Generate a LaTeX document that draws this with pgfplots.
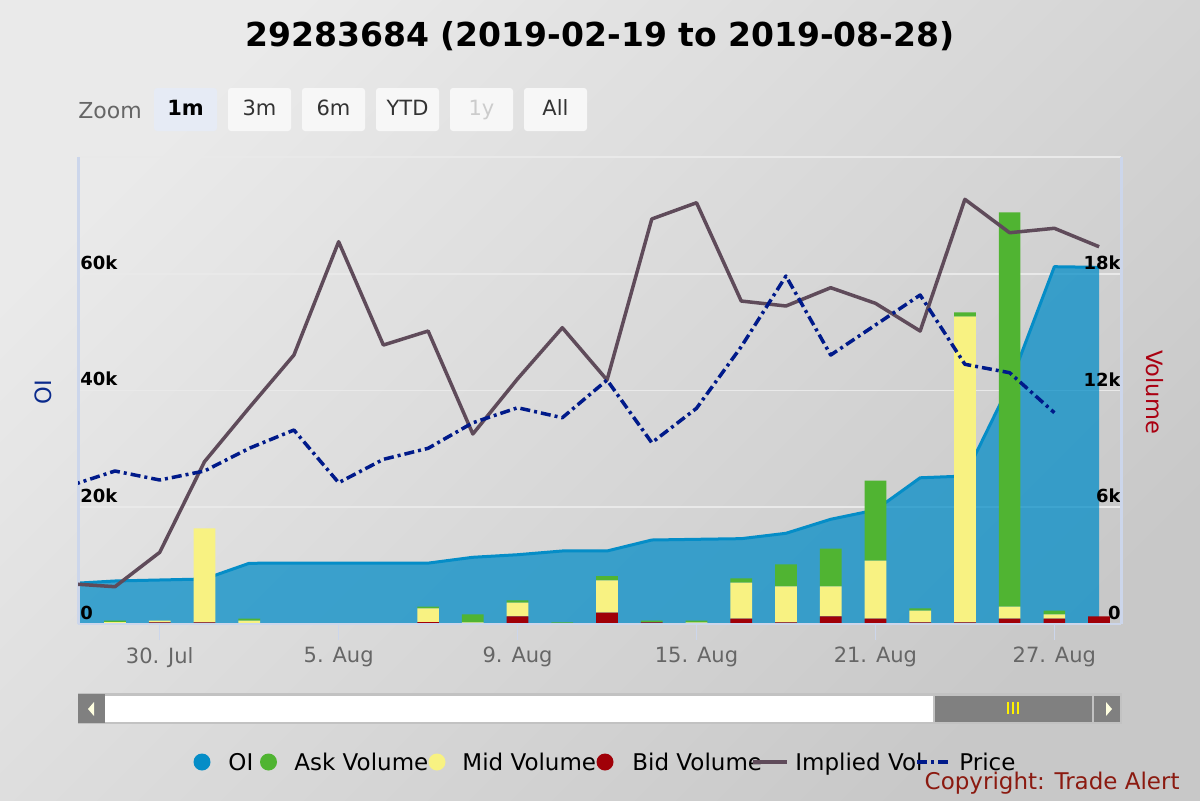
\documentclass[border=0pt]{standalone}
\usepackage{pgfplots}
\pgfplotsset{compat=1.18}
\usepackage{pgfplotstable}
\usepackage{fontspec}
\setmainfont{DejaVu Sans}
\definecolor{oicol}{HTML}{058DC7}
\definecolor{askcol}{HTML}{50B432}
\definecolor{midcol}{HTML}{F8F282}
\definecolor{bidcol}{HTML}{A00008}
\definecolor{ivcol}{HTML}{5F4B5A}
\definecolor{pricecol}{HTML}{001A8A}
\definecolor{gridcol}{HTML}{E9E9E9}
\definecolor{axcol}{HTML}{CCD6EB}
\definecolor{bgA}{HTML}{EAEAEA}
\definecolor{bgB}{HTML}{C8C8C8}
\definecolor{oititle}{HTML}{0A2A8C}
\definecolor{voltitle}{HTML}{AA0011}
\definecolor{copycol}{HTML}{8B1A10}
\definecolor{tickcol}{HTML}{666666}
\definecolor{btnbg}{HTML}{F7F7F7}
\definecolor{btnsel}{HTML}{E6EBF5}
\definecolor{btntext}{HTML}{333333}
\definecolor{btndis}{HTML}{CCCCCC}
\definecolor{scrgrey}{HTML}{808080}
\definecolor{scrbord}{HTML}{C2C2C2}
\definecolor{arrowcol}{HTML}{FFFFE0}

\pgfplotstableread{
idx oi
-1 6930
0 7370
1 7540
2 7710
3 10400
4 10450
5 10450
6 10450
7 10430
8 11430
9 11870
10 12510
11 12510
12 14390
13 14510
14 14620
15 15540
16 17940
17 19530
18 25050
19 25350
20 41000
21 61210
22 61100
}\oitab

\pgfplotstableread{
idx iv
-1 6900
0 6390
1 12280
2 27800
3 37050
4 46080
5 65490
6 47790
7 50190
8 32550
9 42000
10 50760
11 41800
12 69380
13 72170
14 55330
15 54480
16 57610
17 54940
18 50190
19 72750
20 67030
21 67790
22 64630
}\ivtab

\pgfplotstableread{
idx price
-1 23710
0 26210
1 24670
2 26210
3 30100
4 33230
5 24210
6 28210
7 30100
8 34480
9 37050
10 35340
11 41800
12 31060
13 36950
14 47500
15 59610
16 46080
17 51220
18 56360
19 44490
20 43050
21 36200
}\pricetab

\pgfplotstableread{
idx bid mid ask
0 0 100 80
1 90 90 0
2 90 4830 0
3 0 180 100
4 0 0 0
5 0 0 0
6 0 0 0
7 100 700 100
8 0 80 410
9 390 710 110
10 0 0 80
11 590 1650 220
12 80 0 100
13 0 80 100
14 280 1850 210
15 80 1850 1130
16 390 1540 1950
17 280 2980 4110
18 80 610 110
19 80 15720 210
20 280 620 20250
21 280 210 200
22 390 0 0
}\voltab

\pgfplotsset{
  baseframe/.style={at={(39pt,-312pt)}, anchor=south west, scale only axis,
    width=521.5pt, height=233.5pt, xmin=-0.827, xmax=22.49, clip=true,
    scaled y ticks=false, scaled x ticks=false},
}

\begin{document}
\begin{tikzpicture}
% ---------- background, title, range selector ----------
\begin{scope}[x=0.5pt,y=-0.5pt]
  \shade[top color=bgA, bottom color=bgB, shading angle=45] (0,0) rectangle (1200,800);
  \node[anchor=base, font=\fontsize{16.5}{18}\selectfont\bfseries] at (600,46)
    {29283684 (2019-02-19 to 2019-08-28)};
  \node[anchor=base west, inner sep=0pt, text=tickcol, font=\fontsize{11}{12}\selectfont] at (78,118) {Zoom};
  \fill[btnsel, rounded corners=1.5pt] (154,88) rectangle ++(63,43);
  \node[anchor=base, font=\fontsize{10.5}{12}\selectfont\bfseries] at (185.5,115) {1m};
  \foreach \xx/\lab in {228/3m,302/6m,376/YTD,524/All}{
    \fill[btnbg, rounded corners=1.5pt] (\xx,88) rectangle ++(63,43);
    \node[anchor=base, text=btntext, font=\fontsize{10.5}{12}\selectfont] at (\xx+31.5,115) {\lab};
  }
  \fill[btnbg, rounded corners=1.5pt] (450,88) rectangle ++(63,43);
  \node[anchor=base, text=btndis, font=\fontsize{10.5}{12}\selectfont] at (481.5,115) {1y};
\end{scope}

% ---------- OI area (left axis, grid) ----------
\begin{axis}[baseframe, ymin=0, ymax=80000,
  axis line style={draw=none},
  xtick=\empty,
  ytick={0,20000,40000,60000,80000},
  yticklabels={},
  ytick style={draw=none}, major tick length=0pt,
  ymajorgrids, major grid style={gridcol, line width=0.8pt},
]
\addplot[draw=none, fill=oicol, fill opacity=0.75] table[x=idx,y=oi]{\oitab} \closedcycle;
\addplot[oicol, line width=1.5pt, line join=round] table[x=idx,y=oi]{\oitab};
\end{axis}

% ---------- Volume bars (right axis) ----------
\begin{axis}[baseframe, ymin=0, ymax=24000,
  ybar stacked, bar width=10.85pt,
  axis line style={draw=none},
  xtick=\empty,
  ytick={0,6000,12000,18000},
  yticklabels={0,6k,12k,18k},
  yticklabel pos=right,
  ytick style={draw=none}, major tick length=0pt,
  yticklabel style={anchor=south east, inner sep=0pt, yshift=2pt,
    font=\fontsize{9}{10}\selectfont\bfseries},
]
\addplot[draw=none, fill=bidcol] table[x=idx,y=bid]{\voltab};
\addplot[draw=none, fill=midcol] table[x=idx,y=mid]{\voltab};
\addplot[draw=none, fill=askcol] table[x=idx,y=ask]{\voltab};
\end{axis}

% ---------- Implied Vol and Price, axis lines, date ticks ----------
\begin{axis}[baseframe, ymin=0, ymax=80000,
  axis x line*=bottom, axis y line*=box,
  x axis line style={axcol, line width=1pt},
  y axis line style={axcol, line width=1.5pt},
  ytick=\empty,
  xtick={1,5,9,13,17,21},
  xticklabels={30. Jul,5. Aug,9. Aug,15. Aug,21. Aug,27. Aug},
  tick align=outside, major tick length=8pt,
  xtick style={axcol, line width=0.6pt},
  xticklabel style={text=tickcol, font=\fontsize{10.5}{12}\selectfont},
]
\addplot[ivcol, line width=1.75pt, line join=round] table[x=idx,y=iv]{\ivtab};
\addplot[pricecol, line width=1.75pt, line join=round,
  dash pattern=on 5pt off 2pt on 1.5pt off 2pt] table[x=idx,y=price]{\pricetab};
\end{axis}

% ---------- left OI tick labels, on top ----------
\begin{axis}[baseframe, ymin=0, ymax=80000,
  axis line style={draw=none},
  xtick=\empty,
  ytick={0,20000,40000,60000},
  yticklabels={0,20k,40k,60k},
  ytick style={draw=none}, major tick length=0pt,
  yticklabel style={anchor=south west, inner sep=0pt, xshift=1pt, yshift=2pt,
    font=\fontsize{9}{10}\selectfont\bfseries},
]
\end{axis}

% ---------- axis titles, scrollbar, legend ----------
\begin{scope}[x=0.5pt,y=-0.5pt]
  \node[rotate=90, text=oititle, font=\fontsize{11.25}{12}\selectfont] at (43,392) {OI};
  \node[rotate=-90, text=voltitle, font=\fontsize{11.25}{12}\selectfont] at (1155,392) {Volume};
  % scrollbar
  \fill[scrbord] (78,693) rectangle (1122,724);
  \fill[white] (105,696) rectangle (933,722);
  \fill[scrgrey] (935,696) rectangle (1092,722);
  \fill[scrgrey] (78,694) rectangle (105,723);
  \fill[scrgrey] (1094,696) rectangle (1120,722);
  \fill[arrowcol] (94,702) -- (94,716) -- (88,709) -- cycle;
  \fill[arrowcol] (1106,702) -- (1106,716) -- (1112,709) -- cycle;
  \foreach \gx in {1008,1013,1018}{\draw[yellow, line width=1pt] (\gx,702) -- (\gx,714);}
  % legend
  \begin{scope}[font=\fontsize{11.5}{12}\selectfont]
  \fill[oicol] (202,762) circle (8.5);
  \node[anchor=base west, inner sep=0pt] at (228,770) {OI};
  \fill[askcol] (268.5,762) circle (8.5);
  \node[anchor=base west, inner sep=0pt] at (294,770) {Ask Volume};
  \fill[midcol] (437,762) circle (8.5);
  \node[anchor=base west, inner sep=0pt] at (462,770) {Mid Volume};
  \fill[bidcol] (605,762) circle (8.5);
  \node[anchor=base west, inner sep=0pt] at (632,770) {Bid Volume};
  \draw[ivcol, line width=2pt] (753,762) -- (787,762);
  \node[anchor=base west, inner sep=0pt] at (795,770) {Implied Vol};
  \draw[pricecol, line width=2pt, dash pattern=on 5pt off 2pt on 1.5pt off 2pt] (917,762) -- (951,762);
  \node[anchor=base west, inner sep=0pt] at (959,770) {Price};
  \end{scope}
  \node[anchor=base east, inner sep=0pt, text=copycol, font=\fontsize{11.5}{12}\selectfont] at (1180,789) {Copyright: Trade Alert};
  \pgfresetboundingbox
  \path[use as bounding box] (0,0) rectangle (1200,800);
\end{scope}
\end{tikzpicture}
\end{document}
